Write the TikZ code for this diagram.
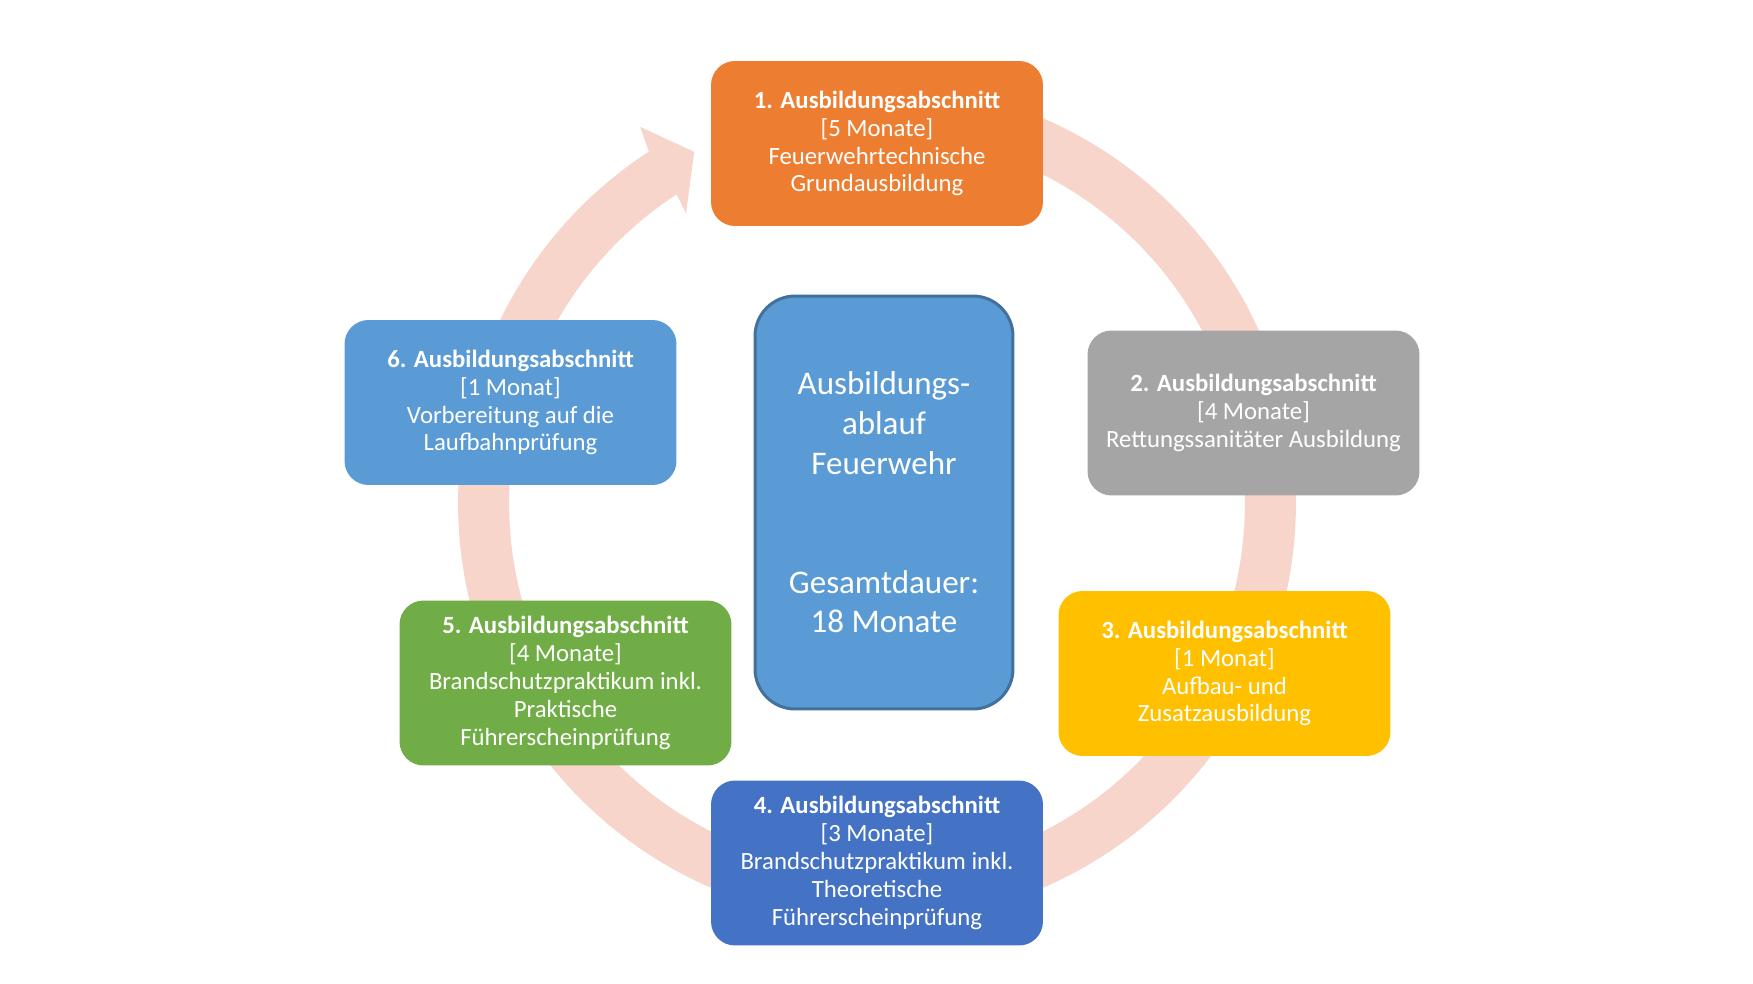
\documentclass[tikz,border=0pt]{standalone}
\usepackage{fontspec}
\setmainfont{Carlito}
\usetikzlibrary{calc}
\definecolor{ringc}{HTML}{F7D5CA}
\definecolor{c1}{HTML}{ED7D31}
\definecolor{c2}{HTML}{A5A5A5}
\definecolor{c3}{HTML}{FFC000}
\definecolor{c4}{HTML}{4472C4}
\definecolor{c5}{HTML}{70AD47}
\definecolor{c6}{HTML}{5B9BD5}
\definecolor{cborder}{HTML}{41719C}
\newcommand\bxfont{\fontsize{14.1}{15.9}\selectfont}
\newcommand\ctrfont{\fontsize{18.8}{22.6}\selectfont}
\begin{document}
\begin{tikzpicture}[x=0.02cm,y=0.02cm,
  stagebox/.style={rounded corners=0.48cm, minimum width=6.64cm, minimum height=3.3cm,
    inner sep=0pt, align=center, text=white, font=\bxfont},
  centerbox/.style={rounded corners=0.8cm, minimum width=5.16cm, minimum height=8.26cm,
    inner sep=0pt, align=center, text=white, font=\ctrfont, fill=c6, draw=cborder, line width=0.06cm},
  ringline/.style={draw=ringc, line width=1.02cm, line cap=butt}]
\useasboundingbox (0,0) rectangle (1753,-983);
\fill[white] (0,0) rectangle (1753,-983);
\coordinate (c) at (877,-503);
% ring
\draw[ringline] ($(c)+(90:7.87cm)$) arc[start angle=90, end angle=-237, radius=7.87cm];
\fill[ringc] ($(c)+(123:8.38cm)$) -- ($(c)+(122.2:8.89cm)$) -- ($(c)+(117.5:7.92cm)$)
  -- ($(c)+(123.4:6.94cm)$) -- ($(c)+(123:7.36cm)$) -- cycle;
% boxes
\node[stagebox, fill=c1] (s1) at (877,-143.5) {\textbf{1. Ausbildungsabschnitt}\\{[5 Monate]}\\Feuerwehrtechnische\\Grundausbildung};
\node[stagebox, fill=c2] (s2) at (1253.5,-413) {\textbf{2. Ausbildungsabschnitt}\\{[4 Monate]}\\Rettungssanitäter Ausbildung};
\node[stagebox, fill=c3] (s3) at (1224.5,-673.5) {\textbf{3. Ausbildungsabschnitt}\\{[1 Monat]}\\Aufbau- und\\Zusatzausbildung};
\node[stagebox, fill=c4] (s4) at (877,-863) {\textbf{4. Ausbildungsabschnitt}\\{[3 Monate]}\\Brandschutzpraktikum inkl.\\Theoretische\\Führerscheinprüfung};
\node[stagebox, fill=c5] (s5) at (565.5,-683) {\textbf{5. Ausbildungsabschnitt}\\{[4 Monate]}\\Brandschutzpraktikum inkl.\\Praktische\\Führerscheinprüfung};
\node[stagebox, fill=c6] (s6) at (510.5,-402.5) {\textbf{6. Ausbildungsabschnitt}\\{[1 Monat]}\\Vorbereitung auf die\\Laufbahnprüfung};
\node[centerbox] (ctr) at (884,-502.5) {Ausbildungs-\\ablauf\\Feuerwehr\\~\\~\\Gesamtdauer:\\18 Monate};
\end{tikzpicture}
\end{document}
